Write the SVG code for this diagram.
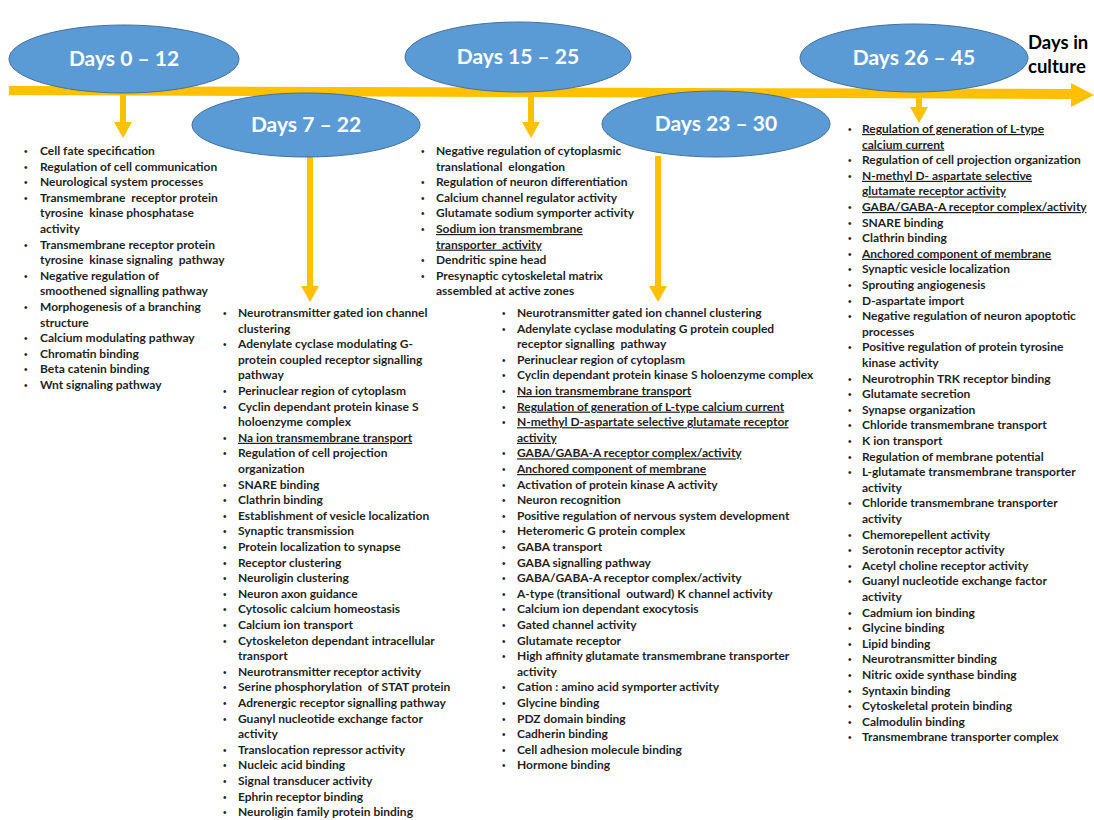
<svg xmlns="http://www.w3.org/2000/svg" width="1094" height="820" viewBox="0 0 1094 820">
  <style>
    .bg { fill: #ffffff; }
    .period { fill: #5B9BD5; stroke: #41719C; stroke-width: 1; }
    .period-label { font-family: Lato, "Open Sans", sans-serif; font-weight: 700; font-size: 21px; fill: #ffffff; text-anchor: middle; }
    .axis-label { font-family: Lato, "Open Sans", sans-serif; font-weight: 700; font-size: 18.5px; fill: #000000; }
    .flow { fill: #FFC000; }
    .list { font-family: Lato, "Open Sans", sans-serif; font-weight: 700; font-size: 12px; fill: #1f1f1f; }
    .b { font-family: "Liberation Sans", sans-serif; font-weight: 400; font-size: 10px; }
    .u { text-decoration: underline; }
  </style>

  <rect class="bg" x="0" y="0" width="1094" height="820"/>

  <!-- time axis with arrowhead -->
  <g id="timeline">
    <polygon class="flow" points="9,86 1071,89 1071,83 1094,95 1071,107 1071,99 9,95"/>
    <text class="axis-label" x="1028" y="49">Days in</text>
    <text class="axis-label" x="1028" y="73">culture</text>
  </g>

  <!-- drop arrows from the axis / period ellipses to each list -->
  <g id="connectors">
    <rect class="flow" x="120" y="94" width="6" height="29"/>
    <polygon class="flow" points="114,122 132,122 123,138"/>
    <rect class="flow" x="528" y="94" width="6" height="29"/>
    <polygon class="flow" points="522,122 540,122 531,138"/>
    <rect class="flow" x="307" y="156" width="6" height="131"/>
    <polygon class="flow" points="301,286 319,286 310,302"/>
    <rect class="flow" x="655" y="156" width="6" height="131"/>
    <polygon class="flow" points="649,286 667,286 658,302"/>
    <rect class="flow" x="916" y="96" width="6" height="12"/>
    <polygon class="flow" points="910,107 928,107 919,123"/>
  </g>

  <!-- period ellipses -->
  <g id="days-0-12">
    <ellipse class="period" cx="124" cy="59" rx="115" ry="34"/>
    <text class="period-label" x="124" y="66">Days 0 – 12</text>
  </g>
  <g id="days-7-22">
    <ellipse class="period" cx="306" cy="125" rx="114" ry="32"/>
    <text class="period-label" x="306" y="132">Days 7 – 22</text>
  </g>
  <g id="days-15-25">
    <ellipse class="period" cx="518" cy="57" rx="113" ry="35"/>
    <text class="period-label" x="518" y="64">Days 15 – 25</text>
  </g>
  <g id="days-23-30">
    <ellipse class="period" cx="716" cy="124" rx="114" ry="33"/>
    <text class="period-label" x="716" y="131">Days 23 – 30</text>
  </g>
  <g id="days-26-45">
    <ellipse class="period" cx="914" cy="58" rx="114" ry="34"/>
    <text class="period-label" x="914" y="65">Days 26 – 45</text>
  </g>

  <!-- term list: days 0-12 -->
  <g id="list-0-12" transform="translate(40,155)">
    <text class="list">
      <tspan class="b" x="-16" dy="0">•</tspan><tspan x="0">Cell fate specification</tspan>
      <tspan class="b" x="-16" dy="15.6">•</tspan><tspan x="0">Regulation of cell communication</tspan>
      <tspan class="b" x="-16" dy="15.6">•</tspan><tspan x="0">Neurological system processes</tspan>
      <tspan class="b" x="-16" dy="15.6">•</tspan><tspan x="0">Transmembrane&#160; receptor protein</tspan>
      <tspan x="0" dy="15.6">tyrosine&#160; kinase phosphatase</tspan>
      <tspan x="0" dy="15.6">activity</tspan>
      <tspan class="b" x="-16" dy="15.6">•</tspan><tspan x="0">Transmembrane receptor protein</tspan>
      <tspan x="0" dy="15.6">tyrosine&#160; kinase signaling&#160; pathway</tspan>
      <tspan class="b" x="-16" dy="15.6">•</tspan><tspan x="0">Negative regulation of</tspan>
      <tspan x="0" dy="15.6">smoothened signalling pathway</tspan>
      <tspan class="b" x="-16" dy="15.6">•</tspan><tspan x="0">Morphogenesis of a branching</tspan>
      <tspan x="0" dy="15.6">structure</tspan>
      <tspan class="b" x="-16" dy="15.6">•</tspan><tspan x="0">Calcium modulating pathway</tspan>
      <tspan class="b" x="-16" dy="15.6">•</tspan><tspan x="0">Chromatin binding</tspan>
      <tspan class="b" x="-16" dy="15.6">•</tspan><tspan x="0">Beta catenin binding</tspan>
      <tspan class="b" x="-16" dy="15.6">•</tspan><tspan x="0">Wnt signaling pathway</tspan>
    </text>
  </g>

  <!-- term list: days 7-22 -->
  <g id="list-7-22" transform="translate(238,317)">
    <text class="list">
      <tspan class="b" x="-15" dy="0">•</tspan><tspan x="0">Neurotransmitter gated ion channel</tspan>
      <tspan x="0" dy="15.6">clustering</tspan>
      <tspan class="b" x="-15" dy="15.6">•</tspan><tspan x="0">Adenylate cyclase modulating G-</tspan>
      <tspan x="0" dy="15.6">protein coupled receptor signalling</tspan>
      <tspan x="0" dy="15.6">pathway</tspan>
      <tspan class="b" x="-15" dy="15.6">•</tspan><tspan x="0">Perinuclear region of cytoplasm</tspan>
      <tspan class="b" x="-15" dy="15.6">•</tspan><tspan x="0">Cyclin dependant protein kinase S</tspan>
      <tspan x="0" dy="15.6">holoenzyme complex</tspan>
      <tspan class="b" x="-15" dy="15.6">•</tspan><tspan x="0" class="u">Na ion transmembrane transport</tspan>
      <tspan class="b" x="-15" dy="15.6">•</tspan><tspan x="0">Regulation of cell projection</tspan>
      <tspan x="0" dy="15.6">organization</tspan>
      <tspan class="b" x="-15" dy="15.6">•</tspan><tspan x="0">SNARE binding</tspan>
      <tspan class="b" x="-15" dy="15.6">•</tspan><tspan x="0">Clathrin binding</tspan>
      <tspan class="b" x="-15" dy="15.6">•</tspan><tspan x="0">Establishment of vesicle localization</tspan>
      <tspan class="b" x="-15" dy="15.6">•</tspan><tspan x="0">Synaptic transmission</tspan>
      <tspan class="b" x="-15" dy="15.6">•</tspan><tspan x="0">Protein localization to synapse</tspan>
      <tspan class="b" x="-15" dy="15.6">•</tspan><tspan x="0">Receptor clustering</tspan>
      <tspan class="b" x="-15" dy="15.6">•</tspan><tspan x="0">Neuroligin clustering</tspan>
      <tspan class="b" x="-15" dy="15.6">•</tspan><tspan x="0">Neuron axon guidance</tspan>
      <tspan class="b" x="-15" dy="15.6">•</tspan><tspan x="0">Cytosolic calcium homeostasis</tspan>
      <tspan class="b" x="-15" dy="15.6">•</tspan><tspan x="0">Calcium ion transport</tspan>
      <tspan class="b" x="-15" dy="15.6">•</tspan><tspan x="0">Cytoskeleton dependant intracellular</tspan>
      <tspan x="0" dy="15.6">transport</tspan>
      <tspan class="b" x="-15" dy="15.6">•</tspan><tspan x="0">Neurotransmitter receptor activity</tspan>
      <tspan class="b" x="-15" dy="15.6">•</tspan><tspan x="0">Serine phosphorylation&#160; of STAT protein</tspan>
      <tspan class="b" x="-15" dy="15.6">•</tspan><tspan x="0">Adrenergic receptor signalling pathway</tspan>
      <tspan class="b" x="-15" dy="15.6">•</tspan><tspan x="0">Guanyl nucleotide exchange factor</tspan>
      <tspan x="0" dy="15.6">activity</tspan>
      <tspan class="b" x="-15" dy="15.6">•</tspan><tspan x="0">Translocation repressor activity</tspan>
      <tspan class="b" x="-15" dy="15.6">•</tspan><tspan x="0">Nucleic acid binding</tspan>
      <tspan class="b" x="-15" dy="15.6">•</tspan><tspan x="0">Signal transducer activity</tspan>
      <tspan class="b" x="-15" dy="15.6">•</tspan><tspan x="0">Ephrin receptor binding</tspan>
      <tspan class="b" x="-15" dy="15.6">•</tspan><tspan x="0">Neuroligin family protein binding</tspan>
    </text>
  </g>

  <!-- term list: days 15-25 -->
  <g id="list-15-25" transform="translate(436,155)">
    <text class="list">
      <tspan class="b" x="-15" dy="0">•</tspan><tspan x="0">Negative regulation of cytoplasmic</tspan>
      <tspan x="0" dy="15.6">translational&#160; elongation</tspan>
      <tspan class="b" x="-15" dy="15.6">•</tspan><tspan x="0">Regulation of neuron differentiation</tspan>
      <tspan class="b" x="-15" dy="15.6">•</tspan><tspan x="0">Calcium channel regulator activity</tspan>
      <tspan class="b" x="-15" dy="15.6">•</tspan><tspan x="0">Glutamate sodium symporter activity</tspan>
      <tspan class="b" x="-15" dy="15.6">•</tspan><tspan x="0" class="u">Sodium ion transmembrane</tspan>
      <tspan x="0" dy="15.6" class="u">transporter&#160; activity</tspan>
      <tspan class="b" x="-15" dy="15.6">•</tspan><tspan x="0">Dendritic spine head</tspan>
      <tspan class="b" x="-15" dy="15.6">•</tspan><tspan x="0">Presynaptic cytoskeletal matrix</tspan>
      <tspan x="0" dy="15.6">assembled at active zones</tspan>
    </text>
  </g>

  <!-- term list: days 23-30 -->
  <g id="list-23-30" transform="translate(517,317)">
    <text class="list">
      <tspan class="b" x="-15" dy="0">•</tspan><tspan x="0">Neurotransmitter gated ion channel clustering</tspan>
      <tspan class="b" x="-15" dy="15.6">•</tspan><tspan x="0">Adenylate cyclase modulating G protein coupled</tspan>
      <tspan x="0" dy="15.6">receptor signalling&#160; pathway</tspan>
      <tspan class="b" x="-15" dy="15.6">•</tspan><tspan x="0">Perinuclear region of cytoplasm</tspan>
      <tspan class="b" x="-15" dy="15.6">•</tspan><tspan x="0">Cyclin dependant protein kinase S holoenzyme complex</tspan>
      <tspan class="b" x="-15" dy="15.6">•</tspan><tspan x="0" class="u">Na ion transmembrane transport</tspan>
      <tspan class="b" x="-15" dy="15.6">•</tspan><tspan x="0" class="u">Regulation of generation of L-type calcium current</tspan>
      <tspan class="b" x="-15" dy="15.6">•</tspan><tspan x="0" class="u">N-methyl D-aspartate selective glutamate receptor</tspan>
      <tspan x="0" dy="15.6" class="u">activity</tspan>
      <tspan class="b" x="-15" dy="15.6">•</tspan><tspan x="0" class="u">GABA/GABA-A receptor complex/activity</tspan>
      <tspan class="b" x="-15" dy="15.6">•</tspan><tspan x="0" class="u">Anchored component of membrane</tspan>
      <tspan class="b" x="-15" dy="15.6">•</tspan><tspan x="0">Activation of protein kinase A activity</tspan>
      <tspan class="b" x="-15" dy="15.6">•</tspan><tspan x="0">Neuron recognition</tspan>
      <tspan class="b" x="-15" dy="15.6">•</tspan><tspan x="0">Positive regulation of nervous system development</tspan>
      <tspan class="b" x="-15" dy="15.6">•</tspan><tspan x="0">Heteromeric G protein complex</tspan>
      <tspan class="b" x="-15" dy="15.6">•</tspan><tspan x="0">GABA transport</tspan>
      <tspan class="b" x="-15" dy="15.6">•</tspan><tspan x="0">GABA signalling pathway</tspan>
      <tspan class="b" x="-15" dy="15.6">•</tspan><tspan x="0">GABA/GABA-A receptor complex/activity</tspan>
      <tspan class="b" x="-15" dy="15.6">•</tspan><tspan x="0">A-type (transitional&#160; outward) K channel activity</tspan>
      <tspan class="b" x="-15" dy="15.6">•</tspan><tspan x="0">Calcium ion dependant exocytosis</tspan>
      <tspan class="b" x="-15" dy="15.6">•</tspan><tspan x="0">Gated channel activity</tspan>
      <tspan class="b" x="-15" dy="15.6">•</tspan><tspan x="0">Glutamate receptor</tspan>
      <tspan class="b" x="-15" dy="15.6">•</tspan><tspan x="0">High affinity glutamate transmembrane transporter</tspan>
      <tspan x="0" dy="15.6">activity</tspan>
      <tspan class="b" x="-15" dy="15.6">•</tspan><tspan x="0">Cation : amino acid symporter activity</tspan>
      <tspan class="b" x="-15" dy="15.6">•</tspan><tspan x="0">Glycine binding</tspan>
      <tspan class="b" x="-15" dy="15.6">•</tspan><tspan x="0">PDZ domain binding</tspan>
      <tspan class="b" x="-15" dy="15.6">•</tspan><tspan x="0">Cadherin binding</tspan>
      <tspan class="b" x="-15" dy="15.6">•</tspan><tspan x="0">Cell adhesion molecule binding</tspan>
      <tspan class="b" x="-15" dy="15.6">•</tspan><tspan x="0">Hormone binding</tspan>
    </text>
  </g>

  <!-- term list: days 26-45 -->
  <g id="list-26-45" transform="translate(862,133)">
    <text class="list">
      <tspan class="b" x="-14" dy="0">•</tspan><tspan x="0" class="u">Regulation of generation of L-type</tspan>
      <tspan x="0" dy="15.6" class="u">calcium current</tspan>
      <tspan class="b" x="-14" dy="15.6">•</tspan><tspan x="0">Regulation of cell projection organization</tspan>
      <tspan class="b" x="-14" dy="15.6">•</tspan><tspan x="0" class="u">N-methyl D- aspartate selective</tspan>
      <tspan x="0" dy="15.6" class="u">glutamate receptor activity</tspan>
      <tspan class="b" x="-14" dy="15.6">•</tspan><tspan x="0" class="u">GABA/GABA-A receptor complex/activity</tspan>
      <tspan class="b" x="-14" dy="15.6">•</tspan><tspan x="0">SNARE binding</tspan>
      <tspan class="b" x="-14" dy="15.6">•</tspan><tspan x="0">Clathrin binding</tspan>
      <tspan class="b" x="-14" dy="15.6">•</tspan><tspan x="0" class="u">Anchored component of membrane</tspan>
      <tspan class="b" x="-14" dy="15.6">•</tspan><tspan x="0">Synaptic vesicle localization</tspan>
      <tspan class="b" x="-14" dy="15.6">•</tspan><tspan x="0">Sprouting angiogenesis</tspan>
      <tspan class="b" x="-14" dy="15.6">•</tspan><tspan x="0">D-aspartate import</tspan>
      <tspan class="b" x="-14" dy="15.6">•</tspan><tspan x="0">Negative regulation of neuron apoptotic</tspan>
      <tspan x="0" dy="15.6">processes</tspan>
      <tspan class="b" x="-14" dy="15.6">•</tspan><tspan x="0">Positive regulation of protein tyrosine</tspan>
      <tspan x="0" dy="15.6">kinase activity</tspan>
      <tspan class="b" x="-14" dy="15.6">•</tspan><tspan x="0">Neurotrophin TRK receptor binding</tspan>
      <tspan class="b" x="-14" dy="15.6">•</tspan><tspan x="0">Glutamate secretion</tspan>
      <tspan class="b" x="-14" dy="15.6">•</tspan><tspan x="0">Synapse organization</tspan>
      <tspan class="b" x="-14" dy="15.6">•</tspan><tspan x="0">Chloride transmembrane transport</tspan>
      <tspan class="b" x="-14" dy="15.6">•</tspan><tspan x="0">K ion transport</tspan>
      <tspan class="b" x="-14" dy="15.6">•</tspan><tspan x="0">Regulation of membrane potential</tspan>
      <tspan class="b" x="-14" dy="15.6">•</tspan><tspan x="0">L-glutamate transmembrane transporter</tspan>
      <tspan x="0" dy="15.6">activity</tspan>
      <tspan class="b" x="-14" dy="15.6">•</tspan><tspan x="0">Chloride transmembrane transporter</tspan>
      <tspan x="0" dy="15.6">activity</tspan>
      <tspan class="b" x="-14" dy="15.6">•</tspan><tspan x="0">Chemorepellent activity</tspan>
      <tspan class="b" x="-14" dy="15.6">•</tspan><tspan x="0">Serotonin receptor activity</tspan>
      <tspan class="b" x="-14" dy="15.6">•</tspan><tspan x="0">Acetyl choline receptor activity</tspan>
      <tspan class="b" x="-14" dy="15.6">•</tspan><tspan x="0">Guanyl nucleotide exchange factor</tspan>
      <tspan x="0" dy="15.6">activity</tspan>
      <tspan class="b" x="-14" dy="15.6">•</tspan><tspan x="0">Cadmium ion binding</tspan>
      <tspan class="b" x="-14" dy="15.6">•</tspan><tspan x="0">Glycine binding</tspan>
      <tspan class="b" x="-14" dy="15.6">•</tspan><tspan x="0">Lipid binding</tspan>
      <tspan class="b" x="-14" dy="15.6">•</tspan><tspan x="0">Neurotransmitter binding</tspan>
      <tspan class="b" x="-14" dy="15.6">•</tspan><tspan x="0">Nitric oxide synthase binding</tspan>
      <tspan class="b" x="-14" dy="15.6">•</tspan><tspan x="0">Syntaxin binding</tspan>
      <tspan class="b" x="-14" dy="15.6">•</tspan><tspan x="0">Cytoskeletal protein binding</tspan>
      <tspan class="b" x="-14" dy="15.6">•</tspan><tspan x="0">Calmodulin binding</tspan>
      <tspan class="b" x="-14" dy="15.6">•</tspan><tspan x="0">Transmembrane transporter complex</tspan>
    </text>
  </g>
</svg>
